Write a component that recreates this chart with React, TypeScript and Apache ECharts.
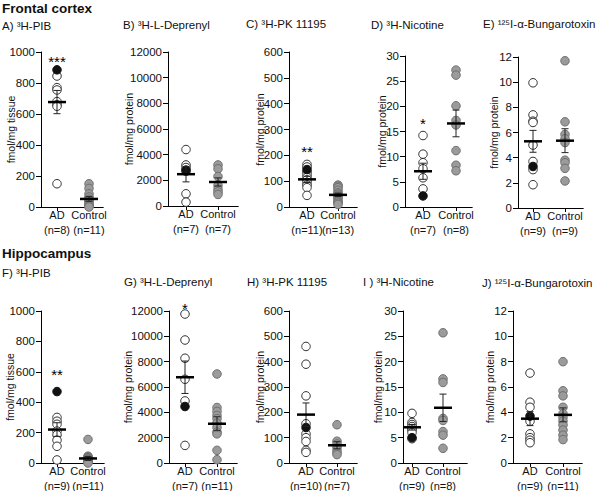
import React, { useEffect, useRef } from "react";
import * as echarts from "echarts";

// ---------- data ----------
const sectionTitles = ["Frontal cortex", "Hippocampus"];
const panelTitles = [
  "A) ³H-PIB",
  "B) ³H-L-Deprenyl",
  "C) ³H-PK 11195",
  "D) ³H-Nicotine",
  "E) ¹²⁵I-α-Bungarotoxin",
  "F) ³H-PIB",
  "G) ³H-L-Deprenyl",
  "H) ³H-PK 11195",
  "I ) ³H-Nicotine",
  "J) ¹²⁵I-α-Bungarotoxin",
];
const groupNames = ["AD", "Control"];
const yNames = [
  "fmol/mg tissue", "fmol/mg protein", "fmol/mg protein", "fmol/mg protein", "fmol/mg protein",
  "fmol/mg tissue", "fmol/mg protein", "fmol/mg protein", "fmol/mg protein", "fmol/mg protein",
];
const yMax = [1000, 12000, 600, 30, 12, 1000, 12000, 600, 30, 12];
const yStep = [200, 2000, 100, 5, 2, 200, 2000, 100, 5, 2];
const adN = [8, 7, 11, 7, 9, 9, 7, 10, 9, 9];
const ctrlN = [11, 7, 13, 8, 9, 11, 11, 7, 8, 11];

// AD individual values (open circles) and the highlighted (filled black) AD case
const adOpen = [
  [845, 770, 755, 680, 660, 650, 150],
  [4400, 3200, 3000, 2700, 950, 300],
  [165, 155, 135, 125, 115, 105, 95, 85, 75, 45],
  [14.2, 10.5, 8.8, 7.6, 5.8, 3.6],
  [9.95, 7.4, 6.9, 6.8, 5.0, 3.7, 3.05, 1.85],
  [300, 275, 255, 210, 185, 150, 110, 20],
  [11760, 9710, 8270, 6610, 4900, 1390],
  [460, 390, 265, 155, 115, 100, 85, 50, 42],
  [9.8, 8.0, 7.6, 7.2, 6.8, 6.5, 6.0, 4.8],
  [7.1, 4.8, 4.4, 3.3, 2.3, 2.0, 1.8, 1.6],
];
const adFilled = [885, 2800, 145, 2.2, 3.3, 470, 4460, 140, 5.0, 3.7];
const ctrlValues = [
  [150, 120, 85, 65, 50, 40, 30, 20, 10, 5, 0],
  [3200, 2900, 2300, 1600, 1300, 1100, 900],
  [85, 80, 75, 65, 55, 50, 45, 40, 35, 25, 20, 15, 10],
  [27.2, 26.2, 20.1, 17.2, 16.3, 11.2, 8.3, 7.2],
  [11.7, 6.85, 5.85, 5.5, 5.2, 3.8, 3.6, 3.15, 2.15],
  [155, 45, 40, 35, 30, 25, 20, 15, 10, 5, 0],
  [7030, 4380, 4070, 3750, 3500, 3150, 2810, 2440, 2300, 1000, 260],
  [151, 86, 75, 63, 50, 40, 33],
  [25.7, 16.6, 15.9, 8.8, 8.4, 6.2, 5.5, 2.9],
  [8.0, 5.7, 5.3, 4.4, 3.9, 3.6, 3.3, 3.0, 2.6, 2.2, 1.85],
];
const adMean = [677, 2480, 107, 7.1, 5.3, 220, 6770, 191, 7.05, 3.5];
const adSem = [75, 600, 12, 1.6, 0.87, 45, 1280, 46, 0.55, 0.55];
const ctrlMean = [52, 1870, 47, 16.6, 5.35, 30, 3100, 70, 10.9, 3.8];
const ctrlSem = [15, 320, 6.5, 2.65, 0.95, 13, 550, 14, 2.7, 0.55];

// significance marks: panel index, text, value height
const starPanels = [0, 2, 3, 5, 6];
const starTexts = ["***", "**", "*", "**", "*"];
const starValues = [940, 213, 16.6, 580, 12200];

// ---------- layout (pixels) ----------
const layout = [
  { l: 41, a: 57, c: 89, r: 103, t: 52, b: 207, gap: 25, tx: 2, ty: 26 },
  { l: 168, a: 186, c: 218, r: 238, t: 52, b: 206, gap: 34, tx: 123, ty: 25 },
  { l: 289, a: 307, c: 338, r: 357, t: 52, b: 207, gap: 24, tx: 246, ty: 24 },
  { l: 405, a: 423, c: 456, r: 472, t: 56, b: 207, gap: 18, tx: 371, ty: 25 },
  { l: 518, a: 533, c: 565, r: 583, t: 57, b: 208, gap: 19, tx: 483, ty: 24 },
  { l: 41, a: 57, c: 88, r: 104, t: 311, b: 463, gap: 26, tx: 2, ty: 273 },
  { l: 169, a: 185, c: 217, r: 237, t: 311, b: 463, gap: 36, tx: 124, ty: 282 },
  { l: 289, a: 306, c: 337, r: 357, t: 311, b: 463, gap: 24, tx: 247, ty: 282 },
  { l: 403, a: 412, c: 443, r: 467, t: 311, b: 463, gap: 20, tx: 363, ty: 282 },
  { l: 513, a: 530, c: 563, r: 582, t: 311, b: 463, gap: 18, tx: 482, ty: 283 },
];
const sectionY = [8, 253];

const FONT = 'Arial, "Liberation Sans", Helvetica, sans-serif';

function buildOption() {
  const grid: any[] = [];
  const xAxis: any[] = [];
  const yAxis: any[] = [];
  const series: any[] = [];
  const graphic: any[] = [];

  layout.forEach((g, i) => {
    const unit = g.c - g.a;
    const xmin = 1 - (g.a - g.l) / unit;
    const xmax = 1 + (g.r - g.a) / unit;
    grid.push({
      left: g.l, top: g.t, width: g.r - g.l, height: g.b - g.t,
      containLabel: false, outerBoundsMode: "none",
    });
    // one x axis per group so that neighbouring labels are never hidden
    [1, 2].forEach((pos) => {
      const n = pos === 1 ? adN[i] : ctrlN[i];
      xAxis.push({
        gridIndex: i, type: "value", position: "bottom", offset: 0,
        min: xmin, max: xmax,
        axisLine: { show: true, onZero: false, lineStyle: { color: "#000", width: 1 } },
        axisTick: { show: true, customValues: [pos], length: 4, lineStyle: { color: "#000" } },
        axisLabel: {
          customValues: [pos], margin: 1, fontSize: 11, lineHeight: 14.5, color: "#111", fontFamily: FONT,
          hideOverlap: false,
          formatter: () => `${groupNames[pos - 1]}\n(n=${n})`,
        },
        splitLine: { show: false },
      });
    });
    yAxis.push({
      gridIndex: i, type: "value", min: 0, max: yMax[i], interval: yStep[i],
      name: yNames[i], nameLocation: "middle", nameGap: g.gap, nameMoveOverlap: false,
      nameTextStyle: { fontSize: 10.5, color: "#111", fontFamily: FONT },
      axisLine: { show: true, lineStyle: { color: "#000", width: 1 } },
      axisTick: { show: true, length: 5, lineStyle: { color: "#000" } },
      axisLabel: {
        fontSize: 11.5, margin: 6, color: "#111", fontFamily: FONT, hideOverlap: false,
        formatter: (v: number) => String(v),
      },
      splitLine: { show: false },
    });

    const xi = 2 * i;
    series.push({
      type: "scatter", xAxisIndex: xi, yAxisIndex: i, symbol: "circle", symbolSize: 8.5,
      data: ctrlValues[i].map((v) => [2, v]), clip: false, z: 2,
      itemStyle: { color: "#9b9b9b", borderColor: "#707070", borderWidth: 1, opacity: 1 },
    });
    series.push({
      type: "scatter", xAxisIndex: xi, yAxisIndex: i, symbol: "circle", symbolSize: 8.5,
      data: adOpen[i].map((v) => [1, v]), clip: false, z: 2,
      itemStyle: { color: "#ffffff", borderColor: "#333", borderWidth: 1, opacity: 1 },
    });
    series.push({
      type: "scatter", xAxisIndex: xi, yAxisIndex: i, symbol: "circle", symbolSize: 8.5,
      data: [[1, adFilled[i]]], clip: false, z: 3,
      itemStyle: { color: "#111", borderColor: "#111", borderWidth: 1, opacity: 1 },
    });
    series.push({
      type: "custom", xAxisIndex: xi, yAxisIndex: i, clip: false, z: 5,
      data: [[1, adMean[i], adSem[i]], [2, ctrlMean[i], ctrlSem[i]]],
      encode: { x: 0, y: 1 },
      renderItem: (params: any, api: any) => {
        const x = api.value(0), m = api.value(1), s = api.value(2);
        const c = api.coord([x, m]);
        const up = api.coord([x, m + s]);
        const dn = api.coord([x, m - s]);
        const thin = { stroke: "#222", lineWidth: 1 };
        return {
          type: "group",
          children: [
            { type: "line", shape: { x1: c[0], y1: up[1], x2: c[0], y2: dn[1] }, style: thin },
            { type: "line", shape: { x1: c[0] - 3.5, y1: up[1], x2: c[0] + 3.5, y2: up[1] }, style: thin },
            { type: "line", shape: { x1: c[0] - 3.5, y1: dn[1], x2: c[0] + 3.5, y2: dn[1] }, style: thin },
            { type: "line", shape: { x1: c[0] - 9, y1: c[1], x2: c[0] + 9, y2: c[1] }, style: { stroke: "#000", lineWidth: 2.5 } },
          ],
        };
      },
    });

    graphic.push({
      type: "text", x: g.tx, y: g.ty,
      style: { text: panelTitles[i], fill: "#111", font: `11.5px ${FONT}`, verticalAlign: "middle", align: "left" },
    });
  });

  starPanels.forEach((p, k) => {
    series.push({
      type: "custom", xAxisIndex: 2 * p, yAxisIndex: p, clip: false, z: 6,
      data: [[1, starValues[k]]],
      encode: { x: 0, y: 1 },
      renderItem: (params: any, api: any) => {
        const pt = api.coord([api.value(0), api.value(1)]);
        return {
          type: "text", x: pt[0], y: pt[1],
          style: { text: starTexts[k], fill: "#000", font: `15px ${FONT}`, align: "center", verticalAlign: "middle" },
        };
      },
    });
  });

  sectionTitles.forEach((t, k) => {
    graphic.push({
      type: "text", x: 2, y: sectionY[k],
      style: { text: t, fill: "#111", font: `bold 13.5px ${FONT}`, verticalAlign: "middle", align: "left" },
    });
  });

  return {
    animation: false,
    backgroundColor: "#ffffff",
    grid, xAxis, yAxis, series, graphic,
  };
}

export default function App() {
  const ref = useRef<HTMLDivElement>(null);
  useEffect(() => {
    if (!ref.current) return;
    const chart = echarts.init(ref.current, undefined, { renderer: "svg" });
    chart.setOption(buildOption() as any);
    return () => chart.dispose();
  }, []);
  return (
    <div
      ref={ref}
      style={{ position: "absolute", left: 0, top: 0, width: 600, height: 491, background: "#fff" }}
    />
  );
}
